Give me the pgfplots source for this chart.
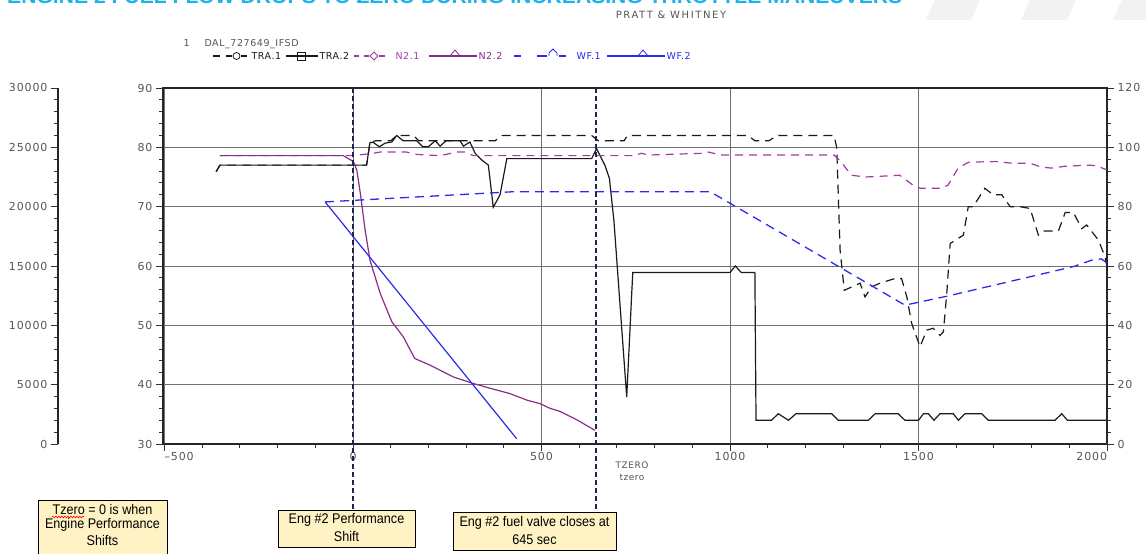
\documentclass[border=0pt]{standalone}
\usepackage{pgfplots}
\pgfplotsset{compat=1.18}
\usepackage{fontspec}
\usetikzlibrary{decorations.pathmorphing}
\setmainfont{Liberation Sans}
\newfontfamily\axfont{DejaVu Sans}[LetterSpace=8]
\newfontfamily\lgfont{DejaVu Sans}[LetterSpace=6]
\newfontfamily\pwfont{DejaVu Sans}[LetterSpace=16]
\newfontfamily\boxfont{Liberation Sans}[FakeStretch=0.9]
\newcommand\tkf{\axfont\fontsize{11}{11}\selectfont}
\newcommand\lgf{\lgfont\fontsize{9.5}{10}\selectfont}
\definecolor{traK}{HTML}{1A1A1A}
\definecolor{nPurS}{HTML}{8A2D8A}
\definecolor{nPurD}{HTML}{A03CA0}
\definecolor{wfB}{HTML}{2B2BEF}
\definecolor{navyd}{HTML}{1C2455}
\definecolor{gridc}{HTML}{707070}
\definecolor{lblc}{HTML}{555555}
\definecolor{boxfill}{HTML}{FFF2C4}
\definecolor{titlec}{HTML}{1EB2EA}
\pgfplotsset{
  base/.style={scale only axis, width=944pt, height=356pt, at={(163pt,110pt)}, anchor=south west, xmin=-504, xmax=2000},
  common/.style={tick align=outside, major tick length=7pt, minor tick length=4pt,
    axis line style={draw=black!85, line width=1.2pt},
    tick style={draw=black!80, line width=0.9pt},
    tick label style={font=\tkf, text=lblc}},
}
\begin{document}
\begin{tikzpicture}
\useasboundingbox (0,0) rectangle (1146pt,554pt);
% faint decorative shapes top right
\fill[black!5] (935pt,554pt) -- (980pt,554pt) -- (971pt,534pt) -- (926pt,534pt) -- cycle;
\fill[black!5] (1030pt,554pt) -- (1076pt,554pt) -- (1067pt,534pt) -- (1021pt,534pt) -- cycle;
\fill[black!5] (1122pt,554pt) -- (1146pt,554pt) -- (1146pt,534pt) -- (1113pt,534pt) -- cycle;
% title (cut off at top, as in the source)
\node[anchor=base west, inner sep=0pt, text=titlec] at (7pt,550.5pt)
  {\resizebox{895pt}{14pt}{\bfseries ENGINE 2 FUEL FLOW DROPS TO ZERO DURING INCREASING THROTTLE MANEUVERS}};
\node[text=lblc, font=\pwfont\fontsize{10}{10}\selectfont] at (671pt,539pt) {PRATT \& WHITNEY};

% main axis: TRA
\begin{axis}[base, common, ymin=30, ymax=90,
  xtick={-500,0,500,1000,1500,2000},
  xticklabels={{\rlap{\textendash500}},0,500,1000,1500,{\llap{2000}}},
  minor x tick num=4,
  ytick={30,40,...,90}, yticklabels={30,40,50,60,70,80,90},
  minor y tick num=4,
  xtick pos=bottom, ytick pos=left,
  xmajorgrids, ymajorgrids,
  major grid style={draw=gridc, line width=0.9pt},
  xticklabel style={yshift=2pt},
]
\addplot[traK, line width=1.2pt, dash pattern=on 9pt off 6pt] coordinates {
(-363,75.9)(-353,77.0)(36,77.0)(45,80.8)(60,81.1)(100,81.1)(116,82.0)(160,82.0)(175,81.1)(377,81.1)(394,82.0)(633,82.0)(651,81.1)(719,81.1)(728,82.0)(1048,82.0)(1066,81.1)(1103,81.1)(1125,82.0)(1276,82.0)(1283,80.0)(1292,62.7)(1303,55.9)(1345,57.1)(1358,54.8)(1376,56.5)(1398,57.1)(1438,57.9)(1455,57.9)(1469,54.8)(1482,50.3)(1504,46.4)(1522,49.2)(1539,49.5)(1557,48.3)(1566,48.9)(1575,55.4)(1584,63.8)(1619,65.2)(1632,70.0)(1645,70.0)(1676,73.1)(1698,72.0)(1721,72.0)(1743,70.0)(1769,70.0)(1796,69.7)(1818,65.2)(1831,65.9)(1871,65.9)(1889,69.0)(1911,69.0)(1933,66.3)(1946,66.9)(1977,64.4)(1995,61.5)(2000,59.9)
};
\addplot[traK, line width=1.2pt] coordinates {
(-363,75.9)(-353,77.0)(36,77.0)(45,80.8)(54,80.8)(70,80.1)(85,80.7)(103,80.9)(116,82.0)(133,81.1)(169,81.1)(185,80.1)(200,80.1)(218,81.1)(231,80.2)(247,81.1)(284,81.1)(293,80.2)(310,80.9)(324,79.0)(341,77.9)(359,77.0)(372,69.9)(390,72.0)(408,78.1)(633,78.1)(646,79.8)(668,77.0)(680,74.8)(692,67.7)(726,37.9)(742,58.9)(1000,58.9)(1014,60.0)(1030,58.9)(1066,58.9)(1069,34.0)(1110,34.0)(1128,35.1)(1155,34.0)(1175,35.1)(1270,35.1)(1287,34.0)(1367,34.0)(1385,35.1)(1446,35.1)(1464,34.0)(1500,34.0)(1513,35.1)(1526,35.1)(1541,34.0)(1557,35.1)(1592,35.1)(1606,34.0)(1623,35.1)(1668,35.1)(1685,34.0)(1862,34.0)(1880,35.1)(1895,34.0)(2000,34.0)
};
\end{axis}

% right axis: N2
\begin{axis}[base, common, ymin=0, ymax=120, axis y line*=right, axis x line=none,
  ytick={0,20,...,120}, yticklabels={0,20,40,60,80,100,120}, minor y tick num=4]
\addplot[nPurD, line width=1.2pt, dash pattern=on 8pt off 6pt] coordinates {
(-353,97.2)(1,97.2)(54,98.0)(72,98.4)(142,98.4)(169,97.6)(231,97.2)(275,98.4)(297,98.4)(319,97.2)(746,97.2)(765,98.0)(783,97.4)(929,98.0)(943,98.4)(975,97.4)(1276,97.4)(1294,95.2)(1322,90.6)(1359,90.0)(1423,90.4)(1450,90.6)(1486,87.2)(1505,86.2)(1559,86.2)(1578,87.2)(1605,93.0)(1633,95.0)(1706,95.2)(1751,94.6)(1797,94.6)(1824,93.4)(1852,93.0)(1888,93.6)(1952,94.0)(1971,93.8)(2000,92.4)
};
\addplot[nPurS, line width=1.2pt] coordinates {
(-353,97.2)(-26,97.2)(1,95.2)(10,92.4)(20,84)(32,72.2)(45,62)(72,50.8)(103,41.2)(133,36.2)(164,28.8)(204,26.6)(266,22.6)(319,20.4)(363,18.8)(416,17.0)(461,14.8)(496,13.6)(523,12.0)(549,11.0)(593,8.2)(642,4.6)
};
\end{axis}

% WF (left scale)
\begin{axis}[base, hide axis, ymin=0, ymax=30000]
\addplot[wfB, line width=1.3pt, dash pattern=on 9pt off 6pt] coordinates {
(-74,20400)(420,21250)(948,21250)(1464,11700)(1575,12450)(1911,14950)(1960,15500)(1985,15600)(2000,15250)
};
\addplot[wfB, line width=1.2pt] coordinates {(-74,20400)(434,450)};
\end{axis}

% left scale axis
\begin{axis}[common, at={(58pt,110pt)}, anchor=south west, scale only axis, width=1pt, height=356pt,
  xmin=0, xmax=1, ymin=0, ymax=30000, axis y line*=left, axis x line=none,
  ytick={0,5000,...,30000}, yticklabels={0,5000,10000,15000,20000,25000,30000},
  scaled y ticks=false, minor y tick num=4]
\end{axis}

% legend
\node[anchor=base west, text=lblc, font=\lgf] at (180pt,507pt) {1};
\node[anchor=base west, text=lblc, font=\lgf] at (201pt,507pt) {DAL\_727649\_IFSD};
\begin{scope}[line width=1.1pt]
\def\ly{498pt}
\draw[traK] (213pt,\ly)--(220pt,\ly) (226pt,\ly)--(232pt,\ly) (241pt,\ly)--(247pt,\ly);
\draw[traK, line width=0.8pt] (236.5pt,\ly) circle (3.5pt);
\node[anchor=west, text=traK, font=\lgf, inner sep=0pt] at (251pt,\ly) {TRA.1};
\draw[traK] (286pt,\ly)--(318pt,\ly);
\draw[traK, line width=0.8pt] (297pt,494pt) rectangle (305pt,502pt);
\node[anchor=west, text=traK, font=\lgf, inner sep=0pt] at (319pt,\ly) {TRA.2};
\draw[nPurD] (354pt,\ly)--(359pt,\ly) (364pt,\ly)--(369pt,\ly) (379pt,\ly)--(385pt,\ly);
\draw[nPurD, line width=0.8pt] (374pt,502pt)--(378pt,\ly)--(374pt,494pt)--(370pt,\ly)--cycle;
\node[anchor=west, text=nPurD, font=\lgf, inner sep=0pt] at (395pt,\ly) {N2.1};
\draw[nPurS] (429pt,\ly)--(477pt,\ly);
\draw[nPurS, line width=0.8pt] (450pt,\ly)--(455pt,504pt)--(460pt,\ly);
\node[anchor=west, text=nPurS, font=\lgf, inner sep=0pt] at (478pt,\ly) {N2.2};
\draw[wfB] (514pt,\ly)--(521pt,\ly) (537pt,\ly)--(547pt,\ly) (559pt,\ly)--(566pt,\ly);
\draw[wfB, line width=0.8pt] (549pt,\ly)--(549pt,501pt)--(553pt,505pt)--(557pt,501pt)--(557pt,\ly);
\node[anchor=west, text=wfB, font=\lgf, inner sep=0pt] at (576pt,\ly) {WF.1};
\draw[wfB] (607pt,\ly)--(665pt,\ly);
\draw[wfB, line width=0.8pt] (638pt,\ly)--(643pt,504pt)--(648pt,\ly);
\node[anchor=west, text=wfB, font=\lgf, inner sep=0pt] at (666pt,\ly) {WF.2};
\end{scope}

% x axis name
\node[text=lblc, font=\lgfont\fontsize{9}{9}\selectfont] at (632pt,89pt) {TZERO};
\node[text=lblc, font=\lgfont\fontsize{9}{9}\selectfont] at (632pt,77pt) {tzero};

% event lines
\draw[navyd, line width=1.3pt, dash pattern=on 5pt off 3pt] (353pt,466pt) -- (353pt,44pt);
\draw[navyd, line width=1.3pt, dash pattern=on 5pt off 3pt] (596pt,466pt) -- (596pt,42pt);

% annotation boxes
\filldraw[fill=boxfill, draw=black, line width=0.8pt] (38pt,54pt) rectangle (167pt,-5pt);
\filldraw[fill=boxfill, draw=black, line width=0.8pt] (278pt,44pt) rectangle (415pt,7pt);
\filldraw[fill=boxfill, draw=black, line width=0.8pt] (453pt,42pt) rectangle (616pt,4pt);
\begin{scope}[every node/.style={font=\boxfont\fontsize{14}{14}\selectfont, inner sep=0pt}]
\node at (102.5pt,45pt) {Tzero = 0 is when};
\node at (102.5pt,29pt) {Engine Performance};
\node at (102.5pt,14pt) {Shifts};
\node at (346.5pt,34pt) {Eng \#2 Performance};
\node at (346.5pt,18pt) {Shift};
\node at (534.5pt,31.5pt) {Eng \#2 fuel valve closes at};
\node at (534.5pt,14.5pt) {645 sec};
\end{scope}
\draw[red, line width=0.6pt, decorate, decoration={snake, amplitude=0.9pt, segment length=3pt}] (52pt,37pt)--(84pt,37pt);
\end{tikzpicture}
\end{document}
